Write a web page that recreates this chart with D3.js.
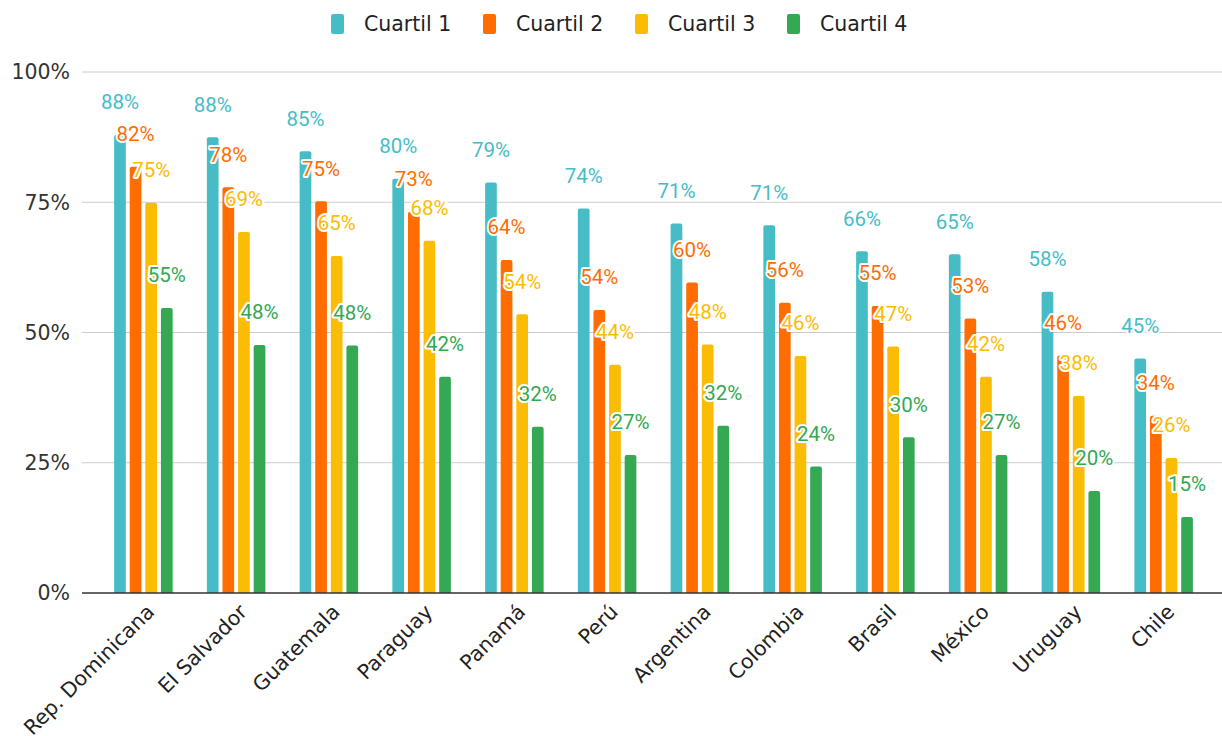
<!DOCTYPE html>
<html>
<head>
<meta charset="utf-8">
<script src="https://cdn.jsdelivr.net/npm/d3@7"></script>
<style>
  body { margin: 0; background: #fff; }
  svg { display: block; }
</style>
</head>
<body>
<script>
// datos
var paises = ["Rep. Dominicana", "El Salvador", "Guatemala", "Paraguay", "Panamá", "Perú",
  "Argentina", "Colombia", "Brasil", "México", "Uruguay", "Chile"];
var series = ["Cuartil 1", "Cuartil 2", "Cuartil 3", "Cuartil 4"];
var cuartil1 = [0.879, 0.875, 0.848, 0.795, 0.788, 0.738, 0.709, 0.706, 0.656, 0.650, 0.578, 0.450];
var cuartil2 = [0.818, 0.779, 0.752, 0.732, 0.639, 0.543, 0.596, 0.557, 0.551, 0.527, 0.456, 0.340];
var cuartil3 = [0.749, 0.693, 0.647, 0.676, 0.535, 0.438, 0.477, 0.455, 0.473, 0.415, 0.378, 0.259];
var cuartil4 = [0.547, 0.476, 0.475, 0.415, 0.319, 0.265, 0.321, 0.243, 0.299, 0.265, 0.196, 0.146];
var yTicks = [0, 0.25, 0.5, 0.75, 1];
var colores = ["#46bdc6", "#ff6d01", "#fbbc04", "#34a853"];

var valores = [cuartil1, cuartil2, cuartil3, cuartil4];

var w = 1222;
var h = 736;
var svg = d3.select("body").append("svg")
  .attr("width", w).attr("height", h);

var x0 = d3.scaleBand().domain(paises).range([97, 1210])
  .paddingInner(0.327).paddingOuter(0.1635);
var x1 = d3.scaleBand().domain(series).range([0, x0.bandwidth()])
  .paddingInner(0.25).paddingOuter(0.125);
var y = d3.scaleLinear().domain([0, 1]).range([593, 72]);
var color = d3.scaleOrdinal().domain(series).range(colores);

// grid
svg.append("g").selectAll("line")
  .data(yTicks.filter(function(d){ return d > 0; }))
  .enter().append("line")
  .attr("x1", 82).attr("x2", 1222)
  .attr("y1", function(d){ return y(d); })
  .attr("y2", function(d){ return y(d); })
  .attr("stroke", "#cccccc").attr("stroke-width", 1);

// y labels
svg.append("g").selectAll("text")
  .data(yTicks)
  .enter().append("text")
  .attr("x", 70)
  .attr("y", function(d){ return y(d); })
  .attr("dy", "0.36em")
  .attr("text-anchor", "end")
  .style("font-family", "DejaVu Sans")
  .style("font-size", "20.5px")
  .attr("fill", "#333")
  .text(d3.format(".0%"));

// bars
function barPath(x, yTop, bw, y0, r) {
  return "M" + x + "," + y0 +
    "V" + (yTop + r) +
    "Q" + x + "," + yTop + " " + (x + r) + "," + yTop +
    "H" + (x + bw - r) +
    "Q" + (x + bw) + "," + yTop + " " + (x + bw) + "," + (yTop + r) +
    "V" + y0 + "Z";
}

var barras = [];
series.forEach(function(s, si){
  paises.forEach(function(p, pi){
    barras.push({ pais: p, serie: s, v: valores[si][pi] });
  });
});

svg.append("g").selectAll("path")
  .data(barras)
  .enter().append("path")
  .attr("d", function(d){
    return barPath(x0(d.pais) + x1(d.serie), y(d.v), x1.bandwidth(), y(0), 2);
  })
  .attr("fill", function(d){ return color(d.serie); });

// baseline
svg.append("line")
  .attr("x1", 82).attr("x2", 1222)
  .attr("y1", y(0)).attr("y2", y(0))
  .attr("stroke", "#333").attr("stroke-width", 1.3);

// data labels
svg.append("g").selectAll("text")
  .data(barras)
  .enter().append("text")
  .attr("x", function(d){ return x0(d.pais) + x1(d.serie) + x1.bandwidth() / 2; })
  .attr("y", function(d){ return y(d.v) - 33; })
  .attr("dy", "0.36em")
  .attr("text-anchor", "middle")
  .style("font-family", "Roboto")
  .style("font-size", "20.5px")
  .style("paint-order", "stroke")
  .attr("stroke", "#fff")
  .attr("stroke-width", 4)
  .attr("stroke-linejoin", "round")
  .attr("fill", function(d){ return color(d.serie); })
  .text(function(d){ return d3.format(".0%")(d.v); });

// x labels
svg.append("g").selectAll("text")
  .data(paises)
  .enter().append("text")
  .attr("transform", function(d){
    return "translate(" + (x0(d) + x0.bandwidth() / 2 + 2) + ",603) rotate(-45)";
  })
  .attr("dy", "0.7em")
  .attr("text-anchor", "end")
  .style("font-family", "DejaVu Sans")
  .style("font-size", "20.5px")
  .attr("fill", "#222")
  .text(function(d){ return d; });

// legend
var legX = [331, 483, 635, 787];
var leyenda = svg.append("g").selectAll("g")
  .data(series)
  .enter().append("g")
  .attr("transform", function(d, i){ return "translate(" + legX[i] + ",14)"; });
leyenda.append("rect")
  .attr("width", 13).attr("height", 20).attr("rx", 2)
  .attr("fill", function(d){ return color(d); });
leyenda.append("text")
  .attr("x", 33).attr("y", 10).attr("dy", "0.36em")
  .style("font-family", "DejaVu Sans")
  .style("font-size", "20.5px")
  .attr("fill", "#222")
  .text(function(d){ return d; });
</script>
</body>
</html>
